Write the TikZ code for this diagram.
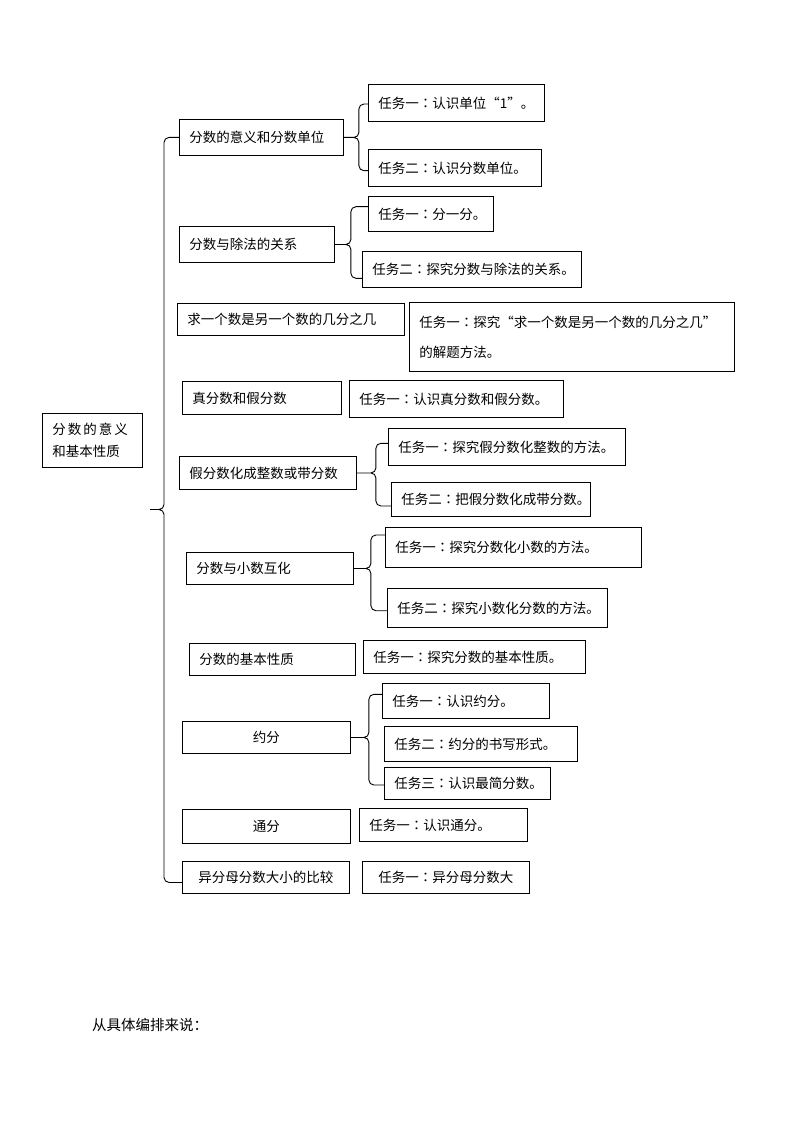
\documentclass[tikz,border=0pt]{standalone}
\usepackage{fontspec}
\setmainfont{Noto Sans CJK SC}
\newfontfamily\tcfont{Noto Sans CJK TC}
\newcommand\zcolon{{\tcfont ：}}
\usetikzlibrary{calc}
\newcommand\fs{\fontsize{13.5}{16}\selectfont}
\tikzset{
 ln/.style={line width=0.9pt, black},
 box/.style={draw, line width=0.9pt, inner xsep=10pt, inner ysep=0pt, anchor=north west, align=left, font=\fs},
 cbox/.style={box, align=center},
}
\newcommand\mybrace[6]{%
 \draw[ln] let \p1=(#1.east), \p2=(#2.west |- 0,#5), \p3=(#3.west |- 0,#6), \p4=($(#1.east)+(#4,0)$) in
 (\p1) -- (\x4-5pt,\y1)
 (\p2) -- (\x4+5pt,\y2) to[out=180,in=90] (\x4,\y2-5pt) -- (\x4,\y1+5pt) to[out=-90,in=0] (\x4-5pt,\y1) to[out=0,in=90] (\x4,\y1-5pt) -- (\x4,\y3+5pt) to[out=-90,in=180] (\x4+5pt,\y3) -- (\p3);}
\begin{document}
\begin{tikzpicture}[x=1pt,y=-1pt]
\useasboundingbox (0,0) rectangle (794,1123);
% root
\node[box, text width=80pt, minimum height=54pt, font=\fontsize{13.5}{21.7}\selectfont] (r) at (42,413) {分\hspace{2pt}数\hspace{2pt}的\hspace{2pt}意\hspace{2pt}义\\和基本性质};
% topics
\node[box, text width=144pt, minimum height=36pt] (b1) at (179,119) {分数的意义和分数单位};
\node[box, text width=135pt, minimum height=36pt] (b2) at (179,226) {分数与除法的关系};
\node[box, text width=207pt, minimum height=32pt] (b3) at (177,303) {求一个数是另一个数的几分之几};
\node[box, text width=139pt, minimum height=33pt] (b4) at (182,381) {真分数和假分数};
\node[box, text width=157pt, minimum height=33pt] (b5) at (179,456) {假分数化成整数或带分数};
\node[box, text width=147pt, minimum height=32pt] (b6) at (186,552) {分数与小数互化};
\node[box, text width=146pt, minimum height=32pt] (b7) at (189,643) {分数的基本性质};
\node[cbox, text width=148pt, minimum height=32pt] (b8) at (182,721) {约分};
\node[cbox, text width=148pt, minimum height=34pt] (b9) at (182,809) {通分};
\node[cbox, text width=147pt, minimum height=32pt] (b10) at (182,861) {异分母分数大小的比较};
% tasks
\node[box, text width=156pt, minimum height=37pt] (t11) at (368,84) {任务一\zcolon 认识单位“1”。};
\node[box, text width=153pt, minimum height=37pt] (t12) at (368,149) {任务二\zcolon 认识分数单位。};
\node[box, text width=105pt, minimum height=35pt] (t21) at (368,196) {任务一\zcolon 分一分。};
\node[box, text width=199pt, minimum height=36pt] (t22) at (362,251) {任务二\zcolon 探究分数与除法的关系。};
\node[box, text width=305pt, minimum height=69pt, font=\fontsize{13.5}{30}\selectfont] (t3) at (409,302) {任务一\zcolon 探究“求一个数是另一个数的几分之几”\\的解题方法。};
\node[box, text width=194pt, minimum height=37pt] (t4) at (349,380) {任务一\zcolon 认识真分数和假分数。};
\node[box, text width=217pt, minimum height=37pt] (t51) at (388,428) {任务一\zcolon 探究假分数化整数的方法。};
\node[box, text width=179pt, minimum height=34pt] (t52) at (391,482) {任务二\zcolon 把假分数化成带分数。};
\node[box, text width=236pt, minimum height=40pt] (t61) at (385,527) {任务一\zcolon 探究分数化小数的方法。};
\node[box, text width=200pt, minimum height=39pt] (t62) at (387,588) {任务二\zcolon 探究小数化分数的方法。};
\node[box, text width=202pt, minimum height=33pt] (t7) at (363,640) {任务一\zcolon 探究分数的基本性质。};
\node[box, text width=147pt, minimum height=35pt] (t81) at (382,683) {任务一\zcolon 认识约分。};
\node[box, text width=173pt, minimum height=35pt] (t82) at (384,726) {任务二\zcolon 约分的书写形式。};
\node[box, text width=146pt, minimum height=32pt] (t83) at (384,767) {任务三\zcolon 认识最简分数。};
\node[box, text width=148pt, minimum height=33pt] (t9) at (359,808) {任务一\zcolon 认识通分。};
\node[cbox, text width=147pt, minimum height=32pt] (t10) at (362,861) {任务一\zcolon 异分母分数大};
% small braces
\mybrace{b1}{t11}{t12}{15}{104}{170.7}
\mybrace{b2}{t21}{t22}{16}{206.7}{278.3}
\mybrace{b5}{t51}{t52}{19}{443.3}{506}
\mybrace{b6}{t61}{t62}{17}{535}{610.7}
\mybrace{b8}{t81}{t83}{18}{694.3}{785}
% main brace
\coordinate (mtip) at (150,509.5);
\draw[ln] let \p1=(b1.west), \p2=([yshift=-5pt]b10.west), \p3=(mtip), \p4=($(mtip)+(14,0)$) in
 (\p1) -- (\x4+5pt,\y1) to[out=180,in=90] (\x4,\y1-5pt) -- (\x4,\y3+5pt) to[out=-90,in=0] (\x4-5pt,\y3) to[out=0,in=90] (\x4,\y3-5pt) -- (\x4,\y2+5pt) to[out=-90,in=180] (\x4+5pt,\y2) -- (\p2)
 (\x4-5pt,\y3) -- (\p3);
% note
\node[font=\fontsize{14.5}{17}\selectfont, anchor=west, inner sep=0pt] (note) at (92,1025) {从具体编排来说：};
\end{tikzpicture}
\end{document}
